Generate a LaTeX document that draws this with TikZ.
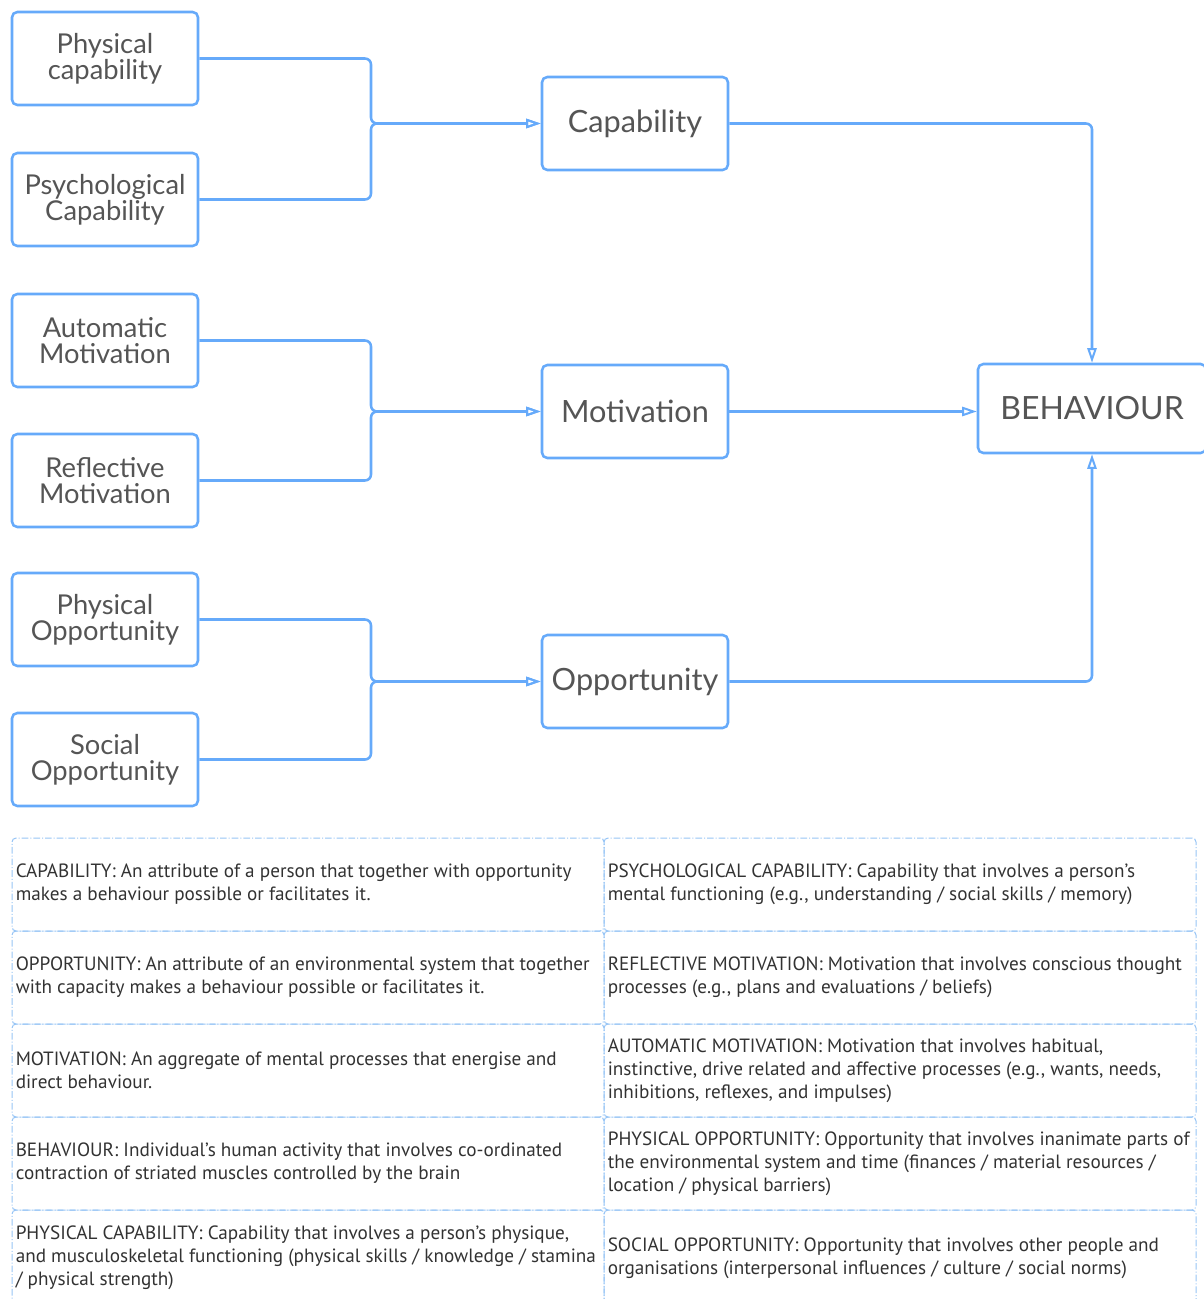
\documentclass[tikz,border=0pt]{standalone}
\usepackage{fontspec}
\setmainfont{PT Sans}
\newfontfamily\boxfont{Lato}
\usetikzlibrary{arrows.meta}
\definecolor{lineblue}{RGB}{102,170,250}
\definecolor{gridblue}{RGB}{150,196,245}
\definecolor{boxtext}{RGB}{85,85,85}
\definecolor{tabtext}{RGB}{50,50,50}
\tikzset{
  sbox/.style={draw=lineblue, line width=1.9pt, rounded corners=4pt, fill=white,
    minimum width=139.5pt, minimum height=69.75pt, inner sep=0pt, align=center,
    font=\boxfont\fontsize{20.5}{19.5}\selectfont, text=boxtext},
  mbox/.style={sbox, font=\boxfont\fontsize{23}{24}\selectfont},
  bbox/.style={sbox, minimum width=171pt, minimum height=66.75pt, font=\boxfont\fontsize{24}{25}\selectfont},
  conn/.style={draw=lineblue, line width=1.9pt, rounded corners=4.5pt},
  arr/.style={conn, -{Triangle[open, length=11pt, width=7pt, line width=1.5pt]}},
  cell/.style={draw=gridblue, line width=0.75pt, rounded corners=3pt,
    dash pattern=on 5pt off 1.5pt on 0.75pt off 1.5pt,
    minimum width=444pt, minimum height=69.75pt, inner sep=0pt},
  ttext/.style={anchor=west, align=left, inner sep=0pt,
    font=\fontsize{14.4}{17.25}\selectfont, text=tabtext}
}
\begin{document}
\begin{tikzpicture}[x=0.75pt,y=-0.75pt]
\useasboundingbox (0,0) rectangle (1203,1299);
% left boxes
\node[sbox] (pc) at (105,58.5) {Physical\\capability};
\node[sbox] (psc) at (105,199.5) {Psychological\\Capability};
\node[sbox] (am) at (105,340.5) {Automatic\\Motivation};
\node[sbox] (rm) at (105,480.5) {Reflective\\Motivation};
\node[sbox] (po) at (105,619.5) {Physical\\Opportunity};
\node[sbox] (so) at (105,759.5) {Social\\Opportunity};
% middle boxes
\node[mbox] (cap) at (635,123.5) {Capability};
\node[mbox] (mot) at (635,411.5) {Motivation};
\node[mbox] (opp) at (635,681.5) {Opportunity};
% behaviour
\node[bbox] (beh) at (1092,408.5) {BEHAVIOUR};
% junctions
\coordinate (j1) at (371,123.5);
\coordinate (j2) at (371,411.5);
\coordinate (j3) at (371,681.5);
\draw[arr] (pc.east) -| (j1) -- (cap.west);
\draw[arr] (psc.east) -| (j1) -- (cap.west);
\draw[arr] (am.east) -| (j2) -- (mot.west);
\draw[arr] (rm.east) -| (j2) -- (mot.west);
\draw[arr] (po.east) -| (j3) -- (opp.west);
\draw[arr] (so.east) -| (j3) -- (opp.west);
\draw[arr] (cap.east) -| (beh.north);
\draw[arr] (mot.east) -- (mot.east -| beh.west);
\draw[arr] (opp.east) -| (beh.south);
% table cells
\node[cell] (c11) at (308,884.5) {};
\node[cell] (c12) at (900,884.5) {};
\node[cell] (c21) at (308,977.5) {};
\node[cell] (c22) at (900,977.5) {};
\node[cell] (c31) at (308,1070.5) {};
\node[cell] (c32) at (900,1070.5) {};
\node[cell] (c41) at (308,1163.5) {};
\node[cell] (c42) at (900,1163.5) {};
\node[cell, minimum height=72pt] (c51) at (308,1258) {};
\node[cell, minimum height=72pt] (c52) at (900,1258) {};
% table texts
\node[ttext] (t11) at ([xshift=3pt]c11.west) {CAPABILITY: An attribute of a person that together with opportunity\\makes a behaviour possible or facilitates it.};
\node[ttext] (t12) at ([xshift=3pt]c12.west) {PSYCHOLOGICAL CAPABILITY: Capability that involves a person's\\mental functioning (e.g., understanding / social skills / memory)};
\node[ttext] (t21) at ([xshift=3pt]c21.west) {OPPORTUNITY: An attribute of an environmental system that together\\with capacity makes a behaviour possible or facilitates it.};
\node[ttext] (t22) at ([xshift=3pt]c22.west) {REFLECTIVE MOTIVATION: Motivation that involves conscious thought\\processes (e.g., plans and evaluations / beliefs)};
\node[ttext] (t31) at ([xshift=3pt]c31.west) {MOTIVATION: An aggregate of mental processes that energise and\\direct behaviour.};
\node[ttext] (t32) at ([xshift=3pt]c32.west) {AUTOMATIC MOTIVATION: Motivation that involves habitual,\\instinctive, drive related and affective processes (e.g., wants, needs,\\inhibitions, reflexes, and impulses)};
\node[ttext] (t41) at ([xshift=3pt]c41.west) {BEHAVIOUR: Individual's human activity that involves co-ordinated\\contraction of striated muscles controlled by the brain};
\node[ttext] (t42) at ([xshift=3pt]c42.west) {PHYSICAL OPPORTUNITY: Opportunity that involves inanimate parts of\\the environmental system and time (finances / material resources /\\location / physical barriers)};
\node[ttext] (t51) at ([xshift=3pt]c51.west) {PHYSICAL CAPABILITY: Capability that involves a person's physique,\\and musculoskeletal functioning (physical skills / knowledge / stamina\\/ physical strength)};
\node[ttext] (t52) at ([xshift=3pt]c52.west) {SOCIAL OPPORTUNITY: Opportunity that involves other people and\\organisations (interpersonal influences / culture / social norms)};
\end{tikzpicture}
\end{document}
